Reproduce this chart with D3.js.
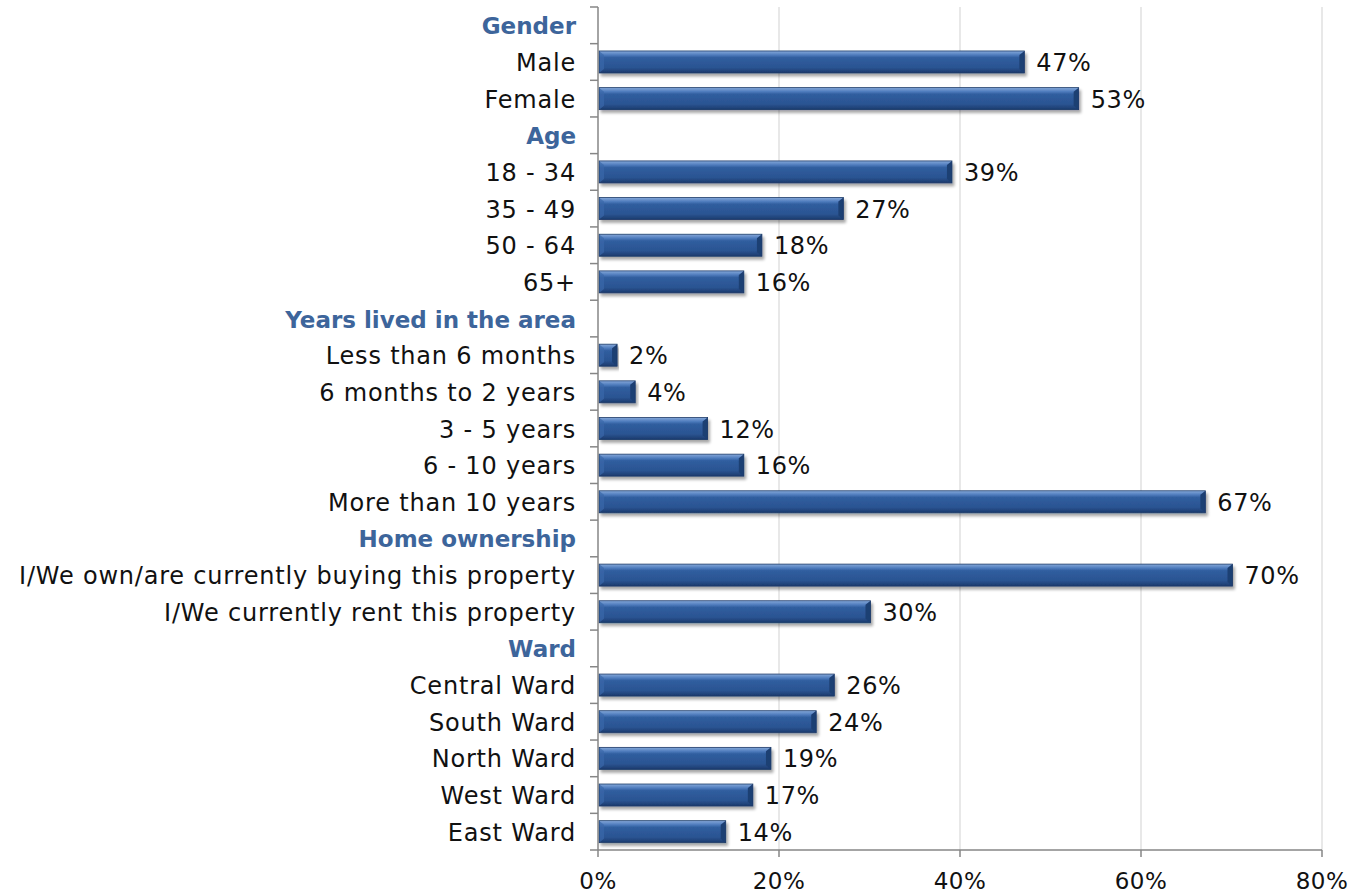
<!DOCTYPE html>
<html><head><meta charset="utf-8">
<script src="https://cdn.jsdelivr.net/npm/d3@7"></script>
<style>body{margin:0;background:#fff;} svg{display:block;}</style>
</head><body>
<svg id="c" width="1351" height="896"></svg>
<script>
const categories = ["Gender","Male","Female","Age","18 - 34","35 - 49","50 - 64","65+","Years lived in the area","Less than 6 months","6 months to 2 years","3 - 5 years","6 - 10 years","More than 10 years","Home ownership","I/We own/are currently buying this property","I/We currently rent this property","Ward","Central Ward","South Ward","North Ward","West Ward","East Ward"];
const headers = ["Gender","Age","Years lived in the area","Home ownership","Ward"];
const values = [null,47,53,null,39,27,18,16,null,2,4,12,16,67,null,70,30,null,26,24,19,17,14];
const xTicks = [0,20,40,60,80];

const svg = d3.select("#c");
const font = "'DejaVu Sans', sans-serif";
const x = d3.scaleLinear().domain([0,80]).range([598,1322]);
const y = d3.scaleBand().domain(categories).range([7,850]).paddingInner(0).paddingOuter(0);

const defs = svg.append("defs");
const g = defs.append("linearGradient").attr("id","barg").attr("x1",0).attr("y1",0).attr("x2",0).attr("y2",1);
[[0,"#86a9da"],[0.18,"#4f7cbd"],[0.3,"#305e9f"],[0.75,"#2b5492"],[1,"#1b3a6c"]].forEach(([o,c])=>g.append("stop").attr("offset",o).attr("stop-color",c));
const f = defs.append("filter").attr("id","sh").attr("x","-5%").attr("y","-30%").attr("width","115%").attr("height","180%");
f.append("feGaussianBlur").attr("in","SourceAlpha").attr("stdDeviation",1.6);
f.append("feOffset").attr("dx",1.5).attr("dy",2.5).attr("result","b");
f.append("feComponentTransfer").append("feFuncA").attr("type","linear").attr("slope",0.35);
const m = f.append("feMerge"); m.append("feMergeNode"); m.append("feMergeNode").attr("in","SourceGraphic");

// gridlines
svg.append("g").selectAll("line").data(xTicks.slice(1)).join("line")
  .attr("x1",d=>x(d)).attr("x2",d=>x(d)).attr("y1",7).attr("y2",850)
  .attr("stroke","#d9d9d9").attr("stroke-width",1.2);

// bars
const bh = 22;
const rows = categories.map((c,i)=>({c,v:values[i]})).filter(d=>d.v!=null);
const bars = svg.append("g").selectAll("g").data(rows).join("g")
  .attr("transform",d=>`translate(${x(0)+1},${y(d.c)+y.bandwidth()/2-bh/2})`)
  .attr("filter","url(#sh)");
bars.append("rect").attr("width",d=>x(d.v)-x(0)).attr("height",bh).attr("fill","url(#barg)");
bars.append("path").attr("d",d=>{const w=x(d.v)-x(0); const e=Math.min(5,w/3); return `M${w-e},${4}L${w},0L${w},${bh}L${w-e},${bh-4}Z`;}).attr("fill","#1f3f73");
bars.append("path").attr("d",d=>{const w=x(d.v)-x(0); const e=Math.min(5,w/3); return `M0,0L${e},${4}L${e},${bh-4}L0,${bh}Z`;}).attr("fill","#3a68aa").attr("opacity",0.7);
bars.append("rect").attr("width",d=>x(d.v)-x(0)).attr("height",bh).attr("fill","none").attr("stroke","#1c3a68").attr("stroke-width",0.8);

// value labels
svg.append("g").selectAll("text").data(rows).join("text")
  .attr("x",d=>x(d.v)+13).attr("y",d=>y(d.c)+y.bandwidth()/2+9)
  .attr("font-family",font).attr("font-size",24).attr("letter-spacing",0.6).attr("fill","#111")
  .text(d=>d.v+"%");

// y axis
const ya = svg.append("g");
ya.append("line").attr("x1",598).attr("x2",598).attr("y1",7).attr("y2",850).attr("stroke","#868686").attr("stroke-width",1.5);
const bounds = d3.range(categories.length+1).map(i=>7+i*y.step());
ya.selectAll("line.t").data(bounds).join("line").attr("class","t")
  .attr("x1",590).attr("x2",598).attr("y1",d=>d).attr("y2",d=>d).attr("stroke","#868686").attr("stroke-width",1.5);
ya.selectAll("text").data(categories).join("text")
  .attr("x",576).attr("y",d=>y(d)+y.bandwidth()/2+9).attr("text-anchor","end")
  .attr("font-family",font).attr("font-size",d=>headers.includes(d)?23:24)
  .attr("letter-spacing",d=>headers.includes(d)?0:0.8)
  .attr("font-weight",d=>headers.includes(d)?"bold":"normal")
  .attr("fill",d=>headers.includes(d)?"#3d659b":"#111")
  .text(d=>d);

// x axis
const xa = svg.append("g");
xa.append("line").attr("x1",598).attr("x2",1322).attr("y1",850).attr("y2",850).attr("stroke","#868686").attr("stroke-width",1.5);
xa.selectAll("line.t").data(xTicks).join("line").attr("class","t")
  .attr("x1",d=>x(d)).attr("x2",d=>x(d)).attr("y1",850).attr("y2",857).attr("stroke","#868686").attr("stroke-width",1.5);
xa.selectAll("text").data(xTicks).join("text")
  .attr("x",d=>x(d)).attr("y",889).attr("text-anchor","middle")
  .attr("font-family",font).attr("font-size",23).attr("letter-spacing",0.5).attr("fill","#111")
  .text(d=>d+"%");
</script>
</body></html>
